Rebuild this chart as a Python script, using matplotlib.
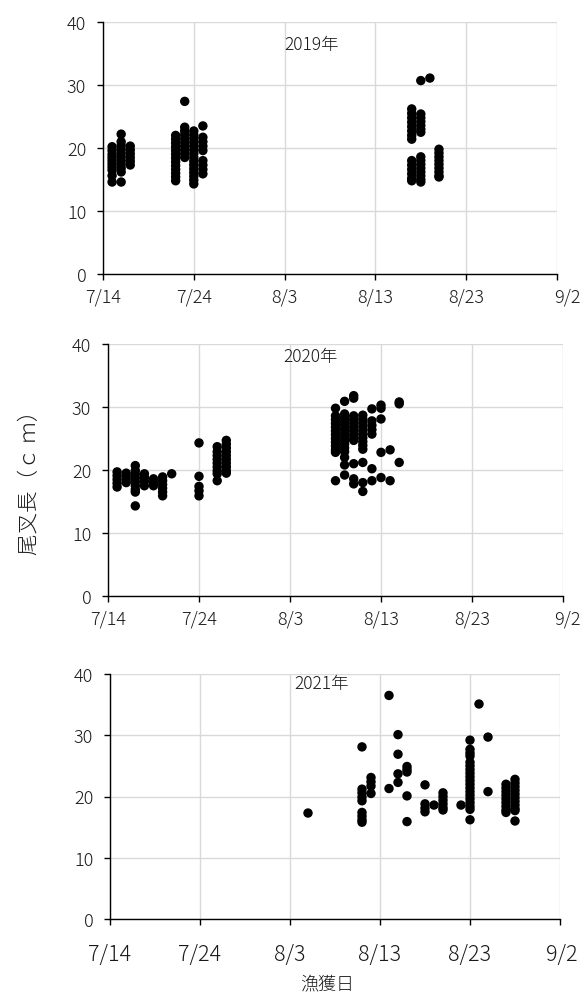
import datetime as dt
import matplotlib
matplotlib.use("Agg")
import matplotlib.pyplot as plt
import matplotlib.dates as mdates
from matplotlib.ticker import FuncFormatter
from matplotlib.transforms import ScaledTranslation

plt.rcParams['font.family'] = ['Noto Sans CJK JP', 'DejaVu Sans']
plt.rcParams['font.weight'] = 'light'

# ---- data: catch date (m/d) and fork length (cm) per date ----
dates_2019 = ["7/15", "7/16", "7/17", "7/22", "7/23", "7/24", "7/25",
              "8/17", "8/18", "8/19", "8/20"]
lengths_2019 = [
    [20.2, 19.6, 19.0, 18.5, 18.0, 17.5, 17.0, 16.5, 15.6, 14.6],
    [22.2, 21.0, 20.4, 19.8, 19.2, 18.6, 18.0, 17.4, 16.8, 16.2, 14.6],
    [20.3, 19.7, 19.1, 18.5, 17.9, 17.3],
    [22.0, 21.4, 20.8, 20.2, 19.6, 19.0, 18.4, 17.8, 17.2, 16.6, 16.0, 15.4, 14.8],
    [27.4, 23.3, 22.7, 22.1, 21.5, 20.9, 20.3, 19.7, 19.1, 18.5],
    [22.7, 22.1, 21.5, 20.9, 20.3, 19.7, 19.1, 18.5, 17.9, 17.3, 16.7, 16.1, 15.5, 14.9, 14.3],
    [23.5, 21.7, 21.0, 20.3, 19.6, 18.0, 17.3, 16.6, 15.9],
    [26.2, 25.5, 24.8, 24.1, 23.4, 22.7, 22.0, 21.4, 18.0, 17.3, 16.6, 15.9, 15.2, 14.8],
    [30.7, 25.4, 24.8, 24.2, 23.6, 23.0, 22.5, 18.6, 18.0, 17.4, 16.8, 16.2, 15.6, 15.0, 14.6],
    [31.1],
    [19.8, 19.2, 18.6, 18.0, 17.4, 16.8, 16.2, 15.6, 15.4],
]

dates_2020 = ["7/15", "7/16", "7/17", "7/18", "7/19", "7/20", "7/21", "7/24",
              "7/26", "7/27", "8/8", "8/9", "8/10", "8/11", "8/12", "8/13",
              "8/14", "8/15"]
lengths_2020 = [
    [19.7, 19.1, 18.5, 17.9, 17.3],
    [19.5, 19.0, 18.5, 18.0],
    [20.7, 19.9, 19.3, 18.7, 18.1, 17.5, 16.9, 16.5, 14.3],
    [19.4, 18.8, 18.2, 17.5],
    [18.6, 18.0, 17.5],
    [18.9, 18.3, 17.7, 17.1, 16.5, 15.9],
    [19.4],
    [24.3, 19.0, 17.4, 16.7, 15.9],
    [23.7, 22.9, 22.3, 21.7, 21.1, 20.5, 19.9, 19.4, 18.3],
    [24.7, 24.1, 23.5, 22.9, 22.3, 21.7, 21.1, 20.5, 19.9, 19.5],
    [29.8, 28.6, 28.0, 27.4, 26.8, 26.2, 25.6, 25.0, 24.4, 23.8, 23.2, 22.8, 18.3],
    [30.9, 28.9, 28.3, 27.7, 27.1, 26.5, 25.9, 25.3, 24.7, 24.1, 23.5, 22.9, 22.0, 20.8, 19.2],
    [31.8, 31.4, 28.6, 28.0, 27.4, 26.8, 26.2, 25.6, 25.0, 24.7, 21.0, 18.6, 17.8],
    [28.7, 28.1, 27.5, 26.9, 26.3, 25.7, 25.1, 24.5, 23.9, 23.3, 21.2, 18.0, 16.6],
    [29.7, 27.8, 27.1, 26.4, 25.7, 20.2, 18.3],
    [30.3, 29.8, 28.1, 22.8, 18.8],
    [23.2, 18.3],
    [30.8, 30.5, 21.2],
]

dates_2021 = ["8/5", "8/11", "8/12", "8/14", "8/15", "8/16", "8/18", "8/19",
              "8/20", "8/22", "8/23", "8/24", "8/25", "8/27", "8/28"]
lengths_2021 = [
    [17.3],
    [28.1, 21.2, 20.6, 19.9, 19.3, 17.4, 16.8, 16.2, 15.8],
    [23.1, 22.4, 21.7, 20.5],
    [36.5, 21.3],
    [30.1, 26.9, 23.7, 22.3],
    [24.9, 24.4, 24.0, 20.1, 15.9],
    [21.9, 18.8, 18.1, 17.5],
    [18.6],
    [20.6, 20.0, 19.4, 18.8, 18.2, 17.8],
    [18.6],
    [29.2, 27.7, 27.1, 26.6, 25.6, 25.0, 24.4, 23.8, 23.2, 22.6, 22.0, 21.4,
     20.8, 20.2, 19.6, 19.0, 18.4, 17.9, 16.2],
    [35.1],
    [29.7, 20.8],
    [22.0, 21.4, 20.8, 20.2, 19.6, 19.0, 18.4, 17.8, 17.4],
    [22.8, 22.2, 21.6, 21.0, 20.4, 19.8, 19.2, 18.6, 18.0, 17.7, 16.0],
]

years = [2019, 2020, 2021]
titles = ["2019年", "2020年", "2021年"]
y_ticks = [0, 10, 20, 30, 40]
x_start, x_end = "7/14", "9/2"
y_label = "尾叉長（ｃ ｍ）"
x_label = "漁獲日"

W, H = 581, 1003
fig = plt.figure(figsize=(W / 100, H / 100), dpi=100)

# axes boxes in pixels: left, right, top, bottom
boxes = [(103, 557, 23, 275), (108, 563, 345, 597), (110, 560, 675, 920)]
title_pos = [(0.46, 0.913), (0.445, 0.952), (0.47, 0.963)]
xtick_size = [13, 13, 15.5]
xtick_pad = [6, 6, 13]
last_shift_px = [10, 4, 2]

def md(year, s):
    m, d = s.split("/")
    return dt.date(year, int(m), int(d))

fmt = FuncFormatter(lambda v, p: f"{mdates.num2date(v).month}/{mdates.num2date(v).day}")
all_dates = [dates_2019, dates_2020, dates_2021]
all_lengths = [lengths_2019, lengths_2020, lengths_2021]

txt_color = '#1a1a1a'
for i, year in enumerate(years):
    l, r, t, b = boxes[i]
    ax = fig.add_axes([l / W, (H - b) / H, (r - l) / W, (b - t) / H])
    xs, ys = [], []
    for dstr, vals in zip(all_dates[i], all_lengths[i]):
        for v in vals:
            xs.append(md(year, dstr))
            ys.append(v)
    ax.scatter(xs, ys, s=46, color='black', edgecolors='none', zorder=3)
    start, end = md(year, x_start), md(year, x_end)
    ax.set_xlim(start, end)
    ax.set_ylim(0, 40)
    ticks = [start + dt.timedelta(days=10 * k) for k in range(6)]
    ax.set_xticks(ticks)
    ax.xaxis.set_major_formatter(fmt)
    ax.set_yticks(y_ticks)
    ax.grid(True, color='#d9d9d9', lw=1.0)
    ax.set_axisbelow(True)
    for s in ['top', 'right']:
        ax.spines[s].set_visible(False)
    for s in ['left', 'bottom']:
        ax.spines[s].set_color('black')
        ax.spines[s].set_linewidth(1.0)
    ax.tick_params(axis='y', direction='out', length=4, width=1, pad=8,
                   labelsize=13, labelcolor=txt_color)
    ax.tick_params(axis='x', direction='out', length=4, width=1,
                   pad=xtick_pad[i],
                   labelsize=xtick_size[i], labelcolor=txt_color)
    fig.canvas.draw()
    lab = ax.get_xticklabels()[-1]
    lab.set_transform(lab.get_transform() +
                      ScaledTranslation(last_shift_px[i] / 100, 0, fig.dpi_scale_trans))
    ax.text(title_pos[i][0], title_pos[i][1], titles[i], transform=ax.transAxes,
            ha='center', va='center', fontsize=12.5, color=txt_color)

fig.text(30 / W, 1 - 477 / H, y_label, rotation=90, ha='center', va='center',
         fontsize=15.5, color=txt_color)
fig.text(327 / W, 1 - 985 / H, x_label, ha='center', va='center',
         fontsize=13, color=txt_color)

fig.savefig("out.png", dpi=100)
